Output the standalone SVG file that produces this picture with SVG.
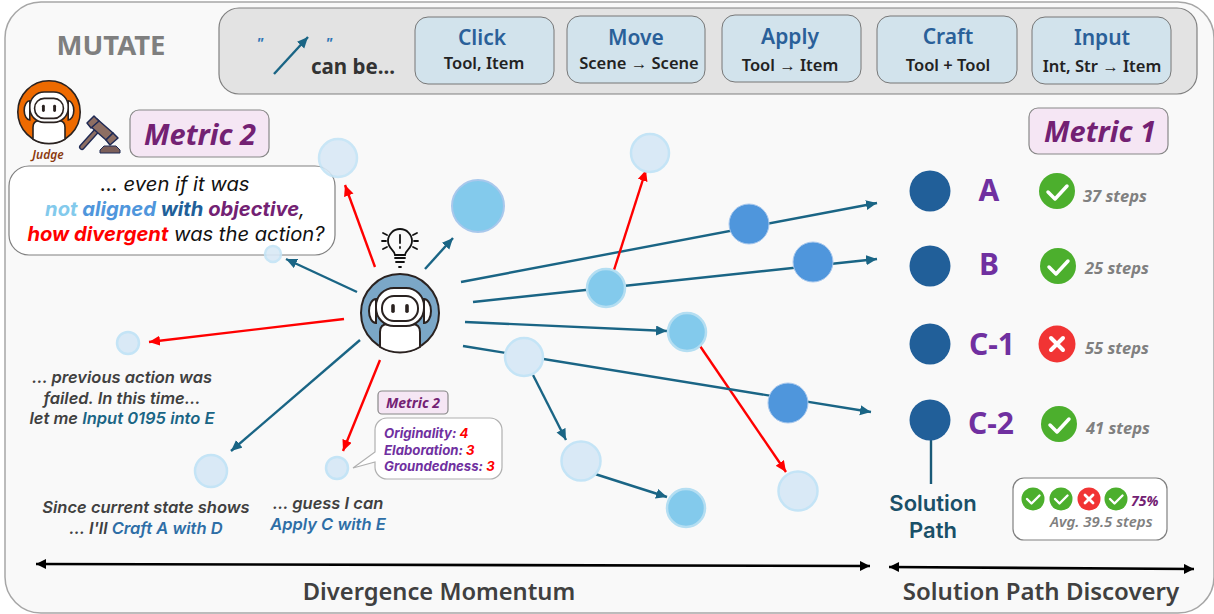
<svg xmlns="http://www.w3.org/2000/svg" width="1214" height="614" viewBox="0 0 1214 614">
<style>
text{font-family:"Noto Sans","Open Sans","Liberation Sans",sans-serif}
.c{text-anchor:middle}
.b{font-weight:700}
.i{font-style:italic}
.blue{stroke:#1a6585;stroke-width:2.4;fill:none;marker-end:url(#ab)}
.red{stroke:#ff0000;stroke-width:2.4;fill:none;marker-end:url(#ar)}
.blk{stroke:#000;stroke-width:2.6;fill:none;marker-start:url(#ak2);marker-end:url(#ak)}
.act{fill:#d2e3ec;stroke:#777;stroke-width:1}
.at{font-size:21px;font-weight:600;fill:#2a6099;text-anchor:middle}
.as{font-size:16.5px;font-weight:600;fill:#222;text-anchor:middle}
.lt{fill:#d9e9f6;stroke:#c4e4f6;stroke-width:2.5}
.mid{fill:#83caec;stroke:#b4def2;stroke-width:2.5}
.bl{fill:#4f96dc;stroke:#a9c9ee;stroke-width:1}
.dk{fill:#215f99}
.big{font-size:30px;font-weight:700;fill:#7030a0;text-anchor:middle}
.st{font-size:16.5px;font-weight:700;font-style:italic;fill:#808080}
.met{fill:#f5e6f4;stroke:#888;stroke-width:1.2}
.mt{font-weight:700;font-style:italic;fill:#732173;text-anchor:middle}
text.sp{font-family:Inter,"Noto Sans",sans-serif;font-size:16.5px;font-style:italic;font-weight:600;fill:#404040}
text.bub{font-family:Inter,"Noto Sans",sans-serif;font-size:20.2px;font-style:italic;fill:#111}
text.og{font-family:Inter,"Noto Sans",sans-serif;font-size:13.2px;font-weight:700;font-style:italic;fill:#7030a0}
text.sl{font-family:Inter,"Noto Sans",sans-serif;font-size:22px;font-weight:600;fill:#1a5068;text-anchor:middle}
.r{fill:#ff0000}
.ok{fill:#4caf2d}
.no{fill:#f13434}
.wk{fill:none;stroke:#fff;stroke-linecap:round;stroke-linejoin:round}
</style>
<defs>
<marker id="ab" markerUnits="userSpaceOnUse" markerWidth="13" markerHeight="11" refX="11" refY="5" orient="auto"><path d="M0 0L11 5L0 10z" fill="#1a6585"/></marker>
<marker id="ar" markerUnits="userSpaceOnUse" markerWidth="13" markerHeight="11" refX="11" refY="5" orient="auto"><path d="M0 0L11 5L0 10z" fill="#ff0000"/></marker>
<marker id="ak" markerUnits="userSpaceOnUse" markerWidth="12" markerHeight="11" refX="10" refY="5" orient="auto"><path d="M0 0L10 5L0 10z" fill="#000"/></marker>
<marker id="ak2" markerUnits="userSpaceOnUse" markerWidth="12" markerHeight="11" refX="0" refY="5" orient="auto"><path d="M10 0L0 5L10 10z" fill="#000"/></marker>
<g id="robot">
<circle r="39" stroke="#2a2220" stroke-width="2"/>
<path d="M-24 -14a7 12 0 0 0 0 24zM24 -14a7 12 0 0 1 0 24z" fill="#fff" stroke="#2a2220" stroke-width="2"/>
<path d="M-20 34V19q0 -8 8 -8h24q8 0 8 8V34a39 39 0 0 1 -40 0z" fill="#fff" stroke="#2a2220" stroke-width="2"/>
<rect x="-24" y="-25" width="48" height="38" rx="18" fill="#fff" stroke="#2a2220" stroke-width="2"/>
<rect x="-18" y="-17" width="36" height="25" rx="12" fill="#fff" stroke="#2a2220" stroke-width="2"/>
<rect x="-8.800" y="-9" width="3.600" height="9" rx="1.800" fill="#2a2220"/>
<rect x="5.200" y="-9" width="3.600" height="9" rx="1.800" fill="#2a2220"/>
</g>
</defs>
<rect id="bg" x="5" y="2" width="1209" height="611" rx="36" fill="#f9f9f9" stroke="#a6a6a6" stroke-width="1.500"/>
<text x="111" y="55" class="c b" font-size="27.5" fill="#7f7f7f">MUTATE</text>

<g id="toolbar">
<rect x="219" y="8" width="978" height="86" rx="20" fill="#e3e3e3" stroke="#808080" stroke-width="1.200"/>
<text x="260" y="48" class="c b i" font-size="15" fill="#2e75b6">"</text>
<text x="329" y="48" class="c b i" font-size="15" fill="#2e75b6">"</text>
<line x1="274" y1="74" x2="308" y2="37" class="blue"/>
<text x="353" y="74" class="c b" font-size="20.5" fill="#333">can be...</text>
</g>
<g id="act-click"><rect class="act" x="415" y="17" width="139" height="67" rx="13"/><text class="at" x="482" y="45">Click</text><text class="as" x="484" y="69">Tool, Item</text></g>
<g id="act-move"><rect class="act" x="567" y="16" width="138" height="67" rx="13"/><text class="at" x="636" y="45">Move</text><text class="as" x="639" y="69">Scene → Scene</text></g>
<g id="act-apply"><rect class="act" x="722" y="15" width="139" height="67" rx="13"/><text class="at" x="790" y="44">Apply</text><text class="as" x="790" y="71">Tool → Item</text></g>
<g id="act-craft"><rect class="act" x="877" y="16" width="140" height="67" rx="13"/><text class="at" x="948" y="44">Craft</text><text class="as" x="948" y="71">Tool + Tool</text></g>
<g id="act-input"><rect class="act" x="1032" y="17" width="139" height="67" rx="13"/><text class="at" x="1102" y="45">Input</text><text class="as" x="1102" y="72">Int, Str → Item</text></g>

<g id="judge">
<use href="#robot" transform="translate(49 112) scale(.8)" fill="#ee6a00"/>
<g id="gavel" stroke="#1f2a55" stroke-linejoin="round">
<path d="M82 147L100 127" stroke-width="6" stroke-linecap="round"/>
<path d="M82 147L100 127" stroke="#8d6e63" stroke-width="3.200" stroke-linecap="round"/>
<path d="M97 119L113 133L106 140L90 126z" fill="#8d6e63" stroke-width="1.500"/>
<path d="M93 115L98 120L90 127L86 122zM112 132L117 137L109 144L105 139z" fill="#8d6e63" stroke-width="1.500" transform="translate(1 1)"/>
<path d="M100 153V150L104 146H116L120 150V153z" fill="#7c5f5a" stroke-width="1"/>
</g>
<text x="48" y="159" class="c i" font-size="12" font-weight="600" fill="#8b3a0e">Judge</text>
</g>
<g id="metric2"><rect class="met" x="130" y="110" width="139" height="47" rx="9"/><text class="mt" x="200" y="145" font-size="29">Metric 2</text></g>
<g id="metric1"><rect class="met" x="1029" y="108" width="139" height="46" rx="9"/><text class="mt" x="1100" y="142" font-size="29">Metric 1</text></g>

<g id="bubble">
<rect x="9" y="166" width="326" height="89" rx="20" fill="#fff" stroke="#808080" stroke-width="1.200"/>
<text class="bub c" x="175" y="191">... even if it was</text>
<text class="bub c" x="175" y="216" style="font-weight:700"><tspan fill="#83caec">not</tspan> <tspan fill="#4f96dc">aligned</tspan> <tspan fill="#215f99">with</tspan> <tspan fill="#732173">objective</tspan><tspan font-weight="400">,</tspan></text>
<text class="bub c" x="176" y="241"><tspan fill="#ff0000" font-weight="700">how divergent</tspan> was the action?</text>
</g>

<g id="connectors">
<line class="red" x1="375" y1="267" x2="345" y2="185"/>
<line class="blue" x1="425" y1="269" x2="453" y2="238"/>
<line class="blue" x1="357" y1="292" x2="286" y2="259"/>
<line class="red" x1="344" y1="319" x2="149" y2="342"/>
<line class="blue" x1="360" y1="340" x2="231" y2="451"/>
<line class="red" x1="380" y1="360" x2="343" y2="451"/>
<line class="blue" x1="461" y1="282" x2="877" y2="203"/>
<line class="blue" x1="473" y1="302" x2="877" y2="259"/>
<line class="red" x1="614" y1="270" x2="646" y2="170"/>
<line class="blue" x1="465" y1="322" x2="667" y2="331"/>
<line class="red" x1="700" y1="346" x2="786" y2="472"/>
<line class="blue" x1="463" y1="346" x2="871" y2="412"/>
<line class="blue" x1="533" y1="375" x2="566" y2="440"/>
<line class="blue" x1="595" y1="474" x2="667" y2="497"/>
<line x1="931" y1="440" x2="931" y2="484" stroke="#1a5a78" stroke-width="2.400"/>
<line class="blk" x1="36" y1="564" x2="870" y2="566"/>
<line class="blk" x1="889" y1="567" x2="1194" y2="569"/>
</g>

<g id="nodes">
<circle id="n1" class="lt" cx="338" cy="158" r="19" opacity=".9"/>
<circle id="n2" class="lt" cx="273" cy="254" r="8" opacity=".9"/>
<circle id="n3" cx="478" cy="206" r="26" fill="#83caec" stroke="#a8c8ec" stroke-width="2"/>
<circle id="n4" class="lt" cx="128" cy="343" r="11"/>
<circle id="n5" class="lt" cx="211" cy="471" r="16"/>
<circle id="n6" class="lt" cx="337" cy="468" r="11"/>
<circle id="n7" class="lt" cx="650" cy="153" r="19"/>
<circle id="n8" class="bl" cx="749" cy="224" r="20"/>
<circle id="n9" class="bl" cx="813" cy="262" r="20"/>
<circle id="n10" class="mid" cx="606" cy="288" r="19"/>
<circle id="n11" class="mid" cx="687" cy="332" r="19"/>
<circle id="n12" class="lt" cx="524" cy="357" r="19"/>
<circle id="n13" class="bl" cx="788" cy="403" r="20"/>
<circle id="n14" class="lt" cx="581" cy="461" r="19.500"/>
<circle id="n15" class="mid" cx="686" cy="508" r="19"/>
<circle id="n16" class="lt" cx="798" cy="491" r="19.500"/>
</g>

<g id="agent">
<use href="#robot" transform="translate(400 313)" fill="#7ba7c7"/>
<g id="bulb" fill="none" stroke="#111" stroke-width="1.800" stroke-linecap="round">
<path d="M395 255c0-5-7-6-7-14a12 12 0 0 1 24 0c0 8-7 9-7 14z"/>
<path d="M395 258h10M396 262h8M399 267h2M400 235v8M400 247v1"/>
<path d="M383 233l4 2M382 241h4M383 249l4-2M417 233l-4 2M418 241h-4M417 249l-4-2"/>
</g>
</g>

<g id="texts-left">
<text class="sp c" x="122" y="383">... previous action was</text>
<text class="sp c" x="122" y="403.500">failed. In this time...</text>
<text class="sp c" x="122" y="424">let me <tspan fill="#1a6585">Input 0195 into E</tspan></text>
<text class="sp c" x="146" y="513">Since current state shows</text>
<text class="sp c" x="146" y="534">... I'll <tspan fill="#2e6ea6">Craft A with D</tspan></text>
<text class="sp c" x="328" y="509">... guess I can</text>
<text class="sp c" x="328" y="529.500"><tspan fill="#2e6ea6">Apply C with E</tspan></text>
</g>

<g id="metric2-small"><rect class="met" x="378" y="391" width="70" height="23" rx="4"/><text class="mt" x="413" y="408" font-size="14">Metric 2</text></g>
<g id="scores">
<path d="M375 430a12 12 0 0 1 12 -12H490a12 12 0 0 1 12 12V467a12 12 0 0 1 -12 12H387a12 12 0 0 1 -12 -12V462L353 468L375 452z" fill="#fff" stroke="#b0b0b0" stroke-width="1.200"/>
<text class="og" x="384" y="438">Originality: <tspan class="r">4</tspan></text>
<text class="og" x="384" y="454.500">Elaboration: <tspan class="r">3</tspan></text>
<text class="og" x="384" y="471">Groundedness: <tspan class="r">3</tspan></text>
</g>

<g id="sol-a"><circle class="dk" cx="930" cy="191" r="20.500"/><text class="big" x="989" y="201">A</text>
<circle class="ok" cx="1057" cy="191" r="18"/><path class="wk" stroke-width="3.500" d="M1048 192l7 7l12 -13"/><text class="st" x="1083" y="202">37 steps</text></g>
<g id="sol-b"><circle class="dk" cx="930" cy="266" r="20.500"/><text class="big" x="989" y="275">B</text>
<circle class="ok" cx="1058" cy="266" r="18"/><path class="wk" stroke-width="3.500" d="M1049 267l7 7l12 -13"/><text class="st" x="1085" y="274">25 steps</text></g>
<g id="sol-c1"><circle class="dk" cx="930" cy="344" r="20.500"/><text class="big" x="992" y="355">C-1</text>
<circle class="no" cx="1057" cy="344" r="18.500"/><path class="wk" stroke-width="4" d="M1051 338l12 12M1063 338l-12 12"/><text class="st" x="1085" y="354">55 steps</text></g>
<g id="sol-c2"><circle class="dk" cx="930" cy="420" r="20.500"/><text class="big" x="991" y="434">C-2</text>
<circle class="ok" cx="1059" cy="424" r="18"/><path class="wk" stroke-width="3.500" d="M1050 425l7 7l12 -13"/><text class="st" x="1086" y="434">41 steps</text></g>

<g id="sol-label">
<text class="sl" x="933" y="511">Solution</text>
<text class="sl" x="933" y="538">Path</text>
</g>

<g id="summary">
<rect x="1013" y="478" width="154" height="62" rx="11" fill="#fff" stroke="#808080" stroke-width="1.200"/>
<circle class="ok" cx="1033" cy="499" r="11.500"/><path class="wk" stroke-width="2.400" d="M1027 499l4.500 4.500l8 -8"/>
<circle class="ok" cx="1061" cy="499" r="11.500"/><path class="wk" stroke-width="2.400" d="M1055 499l4.500 4.500l8 -8"/>
<circle class="no" cx="1089" cy="499" r="11.500"/><path class="wk" stroke-width="2.800" d="M1085 495l8 8M1093 495l-8 8"/>
<circle class="ok" cx="1116" cy="499" r="11.500"/><path class="wk" stroke-width="2.400" d="M1110 499l4.500 4.500l8 -8"/>
<text x="1131" y="506" font-size="14" font-weight="700" font-style="italic" fill="#732173">75%</text>
<text x="1050" y="527" font-size="15" font-weight="600" font-style="italic" fill="#808080">Avg. 39.5 steps</text>
</g>

<text class="c" x="439" y="600" font-size="23.7" font-weight="600" fill="#404040">Divergence Momentum</text>
<text class="c" x="1041" y="600" font-size="24" font-weight="600" fill="#404040">Solution Path Discovery</text>
</svg>
